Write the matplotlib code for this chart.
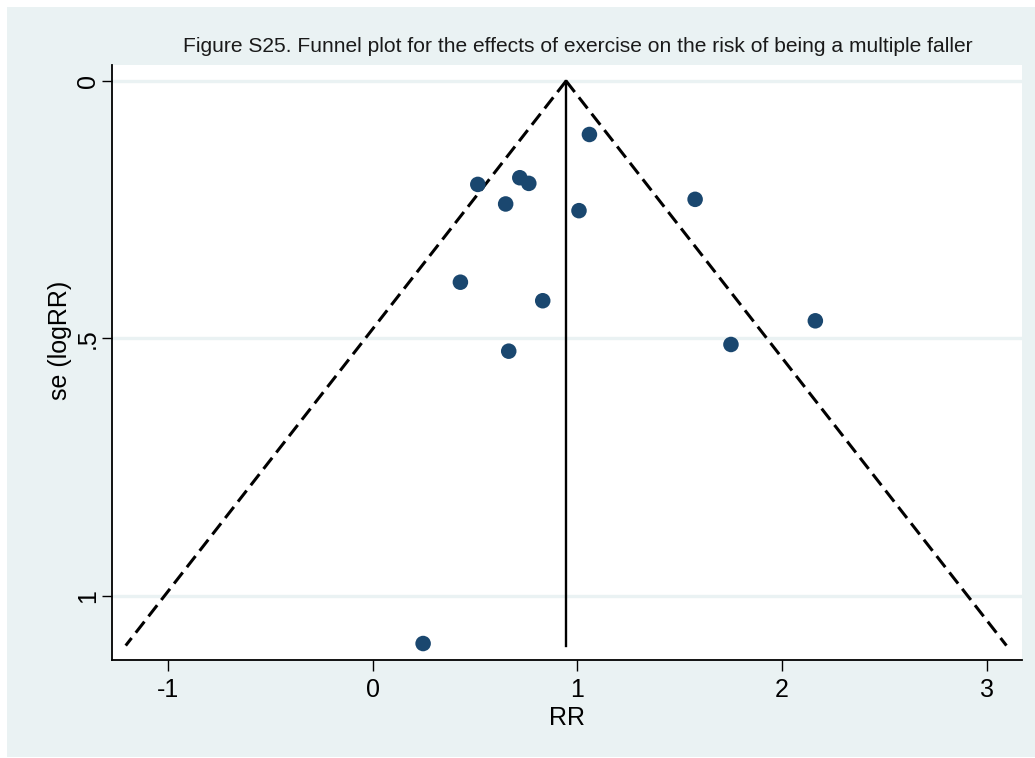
import numpy as np
import matplotlib
matplotlib.use("Agg")
import matplotlib.pyplot as plt
from matplotlib.patches import Rectangle

# Study effects (log RR) and their standard errors
log_rr = [1.059, 0.514, 0.719, 0.763, 0.650, 1.008, 1.575,
          0.429, 0.831, 0.665, 1.750, 2.162, 0.247]
se_log_rr = [0.104, 0.201, 0.188, 0.199, 0.239, 0.252, 0.230,
             0.391, 0.427, 0.525, 0.512, 0.466, 1.093]

# Pooled estimate and funnel extent
pooled = 0.945
se_max = 1.097
z = 1.96

x_ticks = [-1, 0, 1, 2, 3]
y_ticks = [0, 0.5, 1]
y_tick_labels = ["0", ".5", "1"]

bg = "#EAF2F3"
navy = "#1A476F"

plt.rcParams["font.family"] = ["Liberation Sans", "DejaVu Sans"]

fig = plt.figure(figsize=(10.35, 7.58), dpi=100)
fig.patch.set_facecolor("white")
fig.patches.append(Rectangle((7 / 1035, 1 / 758), 1 - 7 / 1035, 1 - 8 / 758,
                             transform=fig.transFigure, facecolor=bg,
                             edgecolor="none", zorder=-10))

ax = fig.add_axes([112 / 1035, 1 - 660 / 758, 910 / 1035, 595 / 758])
ax.set_facecolor("white")

# Pseudo 95% confidence limits
se_line = np.array([0.0, se_max])
for sign in (-1, 1):
    ax.plot(pooled + sign * z * se_line, se_line, color="black", lw=2.2,
            dashes=(4.6, 2.2), zorder=3)
ax.plot([pooled, pooled], [0, se_max], color="black", lw=1.7, zorder=3)

ax.scatter(log_rr, se_log_rr, s=125, color=navy, edgecolors="none", zorder=4)

ax.set_xlim(-1.272, 3.171)
ax.set_ylim(1.125, -0.031)

ax.set_xticks(x_ticks)
ax.set_xticklabels([str(v) for v in x_ticks])
ax.set_yticks(y_ticks)
ax.set_yticklabels(y_tick_labels, rotation=90, va="center")

for v in y_ticks:
    ax.axhline(v, color=bg, lw=2.4, zorder=1)

for side in ("top", "right"):
    ax.spines[side].set_visible(False)
for side in ("left", "bottom"):
    ax.spines[side].set_linewidth(1.3)
    ax.spines[side].set_color("black")

ax.tick_params(axis="x", length=8, width=1.0, color="black",
               labelsize=18, pad=5, labelcolor="black")
ax.tick_params(axis="y", length=7.5, width=1.0, color="black",
               labelsize=18, pad=1, labelcolor="black")

ax.set_xlabel("RR", fontsize=18, labelpad=3)
ax.set_ylabel("se (logRR)", fontsize=18)
ax.yaxis.set_label_coords((72 - 112) / 910, (660 - 340) / 595)

fig.text(578 / 1035, 1 - 47 / 758,
         "Figure S25. Funnel plot for the effects of exercise on the risk of being a multiple faller",
         ha="center", va="center", fontsize=15.1, color="#1a1a1a")

fig.savefig("out.png", dpi=100, facecolor=fig.get_facecolor())
